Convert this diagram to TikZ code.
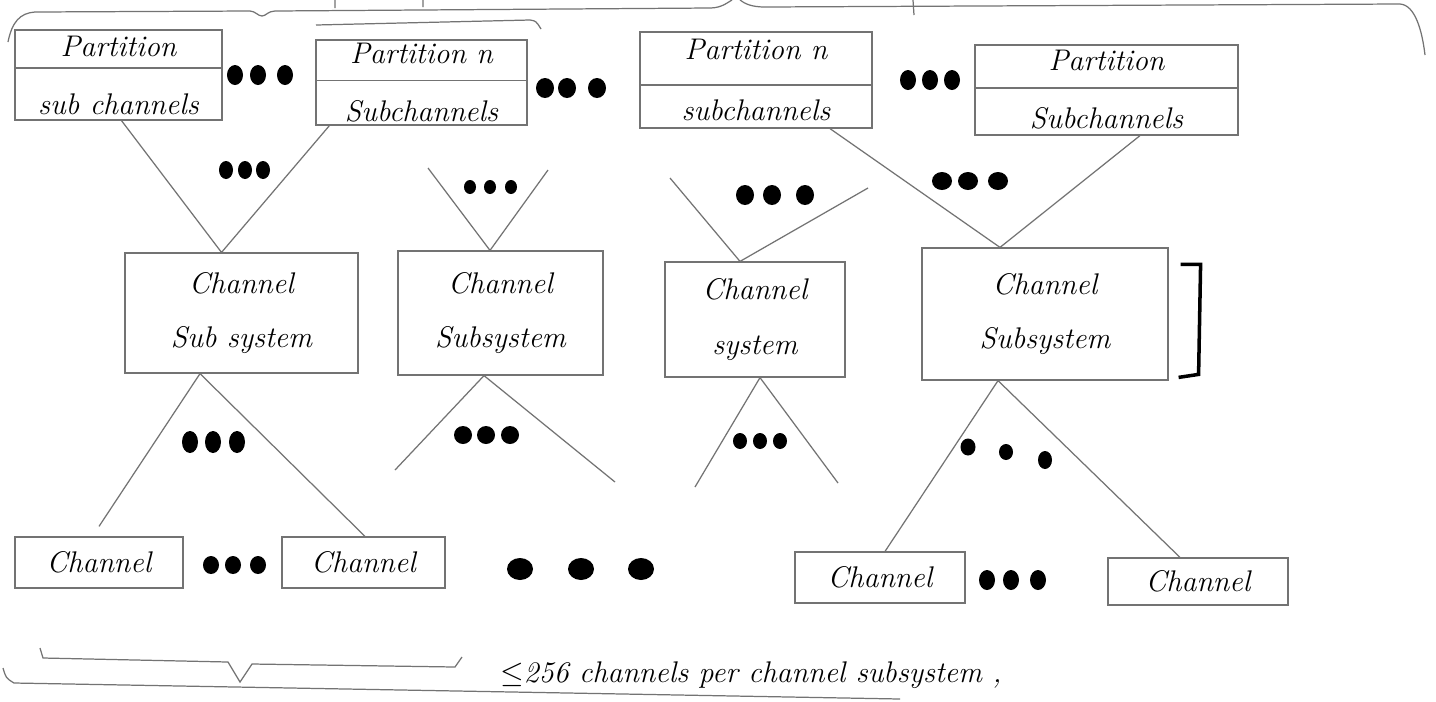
\documentclass[tikz,border=0pt]{standalone}
\usepackage{amssymb}
\begin{document}
\begin{tikzpicture}[x=0.02cm,y=-0.02cm,
  pencil/.style={draw=black!55, line width=0.7pt},
  box/.style={pencil, rectangle, inner sep=0pt, align=center, font=\itshape\fontsize{17}{21}\selectfont},
  lbl/.style={font=\itshape\fontsize{17}{21}\selectfont, inner sep=0pt},
  blob/.style={fill=black}]
\useasboundingbox (0,0) rectangle (1436,701);
\fill[white] (0,0) rectangle (1436,701);

% three-dot macro: centres x1,x2,x3 at y, radii rx, ry
\newcommand\tridots[6]{%
  \fill[black] (#1,#4) ellipse [x radius=#5*0.02cm, y radius=#6*0.02cm];
  \fill[black] (#2,#4) ellipse [x radius=#5*0.02cm, y radius=#6*0.02cm];
  \fill[black] (#3,#4) ellipse [x radius=#5*0.02cm, y radius=#6*0.02cm];}

% ---- top fragments (cropped brace) ----
\draw[pencil] (8,42) .. controls (12,22) and (20,13) .. (35,12) -- (250,11)
  .. controls (255,11) and (258,16) .. (262,16) .. controls (266,16) and (268,11) .. (275,11)
  -- (710,8) .. controls (722,8) and (728,2) .. (732,0)
  (740,0) .. controls (745,4) and (752,7) .. (765,7) -- (1400,4)
  .. controls (1415,5) and (1422,30) .. (1425,55);
\draw[pencil] (335,0) -- (335,8) (423,0) -- (423,7) (913,0) -- (914,15);
\draw[pencil] (316,25) -- (530,20) .. controls (536,21) .. (541,29);

% ---- partition boxes ----
\node[box, minimum width=4.14cm, minimum height=1.8cm] (p1) at (118.5,75) {Partition\\[12pt]sub channels};
\node[box, minimum width=4.22cm, minimum height=1.7cm] (p2) at (421.5,82.5) {Partition n\\[12pt]Subchannels};
\node[box, minimum width=4.64cm, minimum height=1.92cm] (p3) at (756,80) {Partition n\\[14pt]subchannels};
\node[box, minimum width=5.26cm, minimum height=1.8cm] (p4) at (1106.5,90) {Partition\\[12pt]Subchannels};
\foreach \n/\dy in {p1/7,p2/2,p3/-5,p4/2}
  \draw[pencil] ([yshift=\dy*0.02cm]\n.west) -- ([yshift=\dy*0.02cm]\n.east);

\tridots{235}{258}{285}{75}{8}{10}
\tridots{545}{567}{597}{88}{9}{10}
\tridots{908}{930}{952}{80}{8}{10}

% ---- channel subsystem boxes ----
\node[box, minimum width=4.66cm, minimum height=2.4cm] (c1) at (241.5,313) {Channel\\[10pt]Sub system};
\node[box, minimum width=4.1cm, minimum height=2.48cm] (c2) at (500.5,313) {Channel\\[10pt]Subsystem};
\node[box, minimum width=3.6cm, minimum height=2.3cm] (c3) at (755,319.5) {Channel\\[10pt]system};
\node[box, minimum width=4.92cm, minimum height=2.64cm] (c4) at (1045,314) {Channel\\[10pt]Subsystem};
\draw[black, line width=2pt] ([xshift=0.24cm,yshift=-0.34cm]c4.north east) -- ++(20,0) -- ++(-2,110) -- ++(-20,3);

% ---- V connectors (partitions -> subsystems) ----
\coordinate (v2l) at (428,168); \coordinate (v2r) at (548,170);
\coordinate (v3l) at (670,178); \coordinate (v3r) at (868,188);
\draw[pencil] ([xshift=0.06cm]p1.south) -- ([xshift=-0.4cm]c1.north) -- ([xshift=0.28cm]p2.south west);
\draw[pencil] (v2l) -- ([xshift=-0.21cm]c2.north) -- (v2r);
\draw[pencil] (v3l) -- ([xshift=-0.3cm]c3.north) -- (v3r);
\draw[pencil] ([xshift=1.48cm]p3.south) -- ([xshift=-0.9cm]c4.north) -- ([xshift=0.67cm]p4.south);

\tridots{226}{245}{263}{170}{7}{9}
\tridots{470}{490}{511}{187}{6}{7}
\tridots{745}{772}{805}{195}{9}{10}
\tridots{942}{968}{998}{181}{10}{9}

% ---- channel boxes ----
\node[box, minimum width=3.36cm, minimum height=1.02cm] (h1) at (99,562.5) {Channel};
\node[box, minimum width=3.26cm, minimum height=1.02cm] (h2) at (363.5,562.5) {Channel};
\node[box, minimum width=3.4cm, minimum height=1.02cm] (h3) at (880,577.5) {Channel};
\node[box, minimum width=3.6cm, minimum height=0.94cm] (h4) at (1198,581.5) {Channel};

% ---- inverted V connectors (subsystems -> channels) ----
\coordinate (l2l) at (395,470); \coordinate (l2r) at (615,482);
\coordinate (l3l) at (695,487); \coordinate (l3r) at (838,483);
\draw[pencil] ([yshift=0.2cm]h1.north) -- ([xshift=-0.83cm]c1.south) -- ([xshift=0.03cm]h2.north);
\draw[pencil] (l2l) -- ([xshift=-0.33cm]c2.south) -- (l2r);
\draw[pencil] (l3l) -- ([xshift=0.1cm]c3.south) -- (l3r);
\draw[pencil] ([xshift=0.1cm]h3.north) -- ([xshift=-0.94cm]c4.south) -- ([xshift=-0.36cm]h4.north);

\tridots{190}{213}{237}{442}{8}{11}
\tridots{463}{486}{510}{435}{9}{9}
\tridots{740}{760}{780}{441}{7}{8}
\fill[black] (968,447) ellipse [x radius=0.15cm, y radius=0.17cm];
\fill[black] (1006,452) ellipse [x radius=0.14cm, y radius=0.16cm];
\fill[black] (1045,460) ellipse [x radius=0.14cm, y radius=0.18cm];

\tridots{211}{233}{258}{565}{8}{9}
\tridots{520}{581}{641}{569}{13}{11}
\tridots{987}{1011}{1038}{580}{8}{10}

% ---- bottom brace and note ----
\draw[pencil] (40,648) -- (43,658) -- (228,662) -- (240,682) -- (252,664) -- (455,667) -- (462,657);
\draw[pencil] (3,668) .. controls (6,678) .. (14,683) -- (900,699);
\node[lbl, anchor=west] (note) at (500,675) {$\leq$256 channels per channel subsystem ,};
\end{tikzpicture}
\end{document}
